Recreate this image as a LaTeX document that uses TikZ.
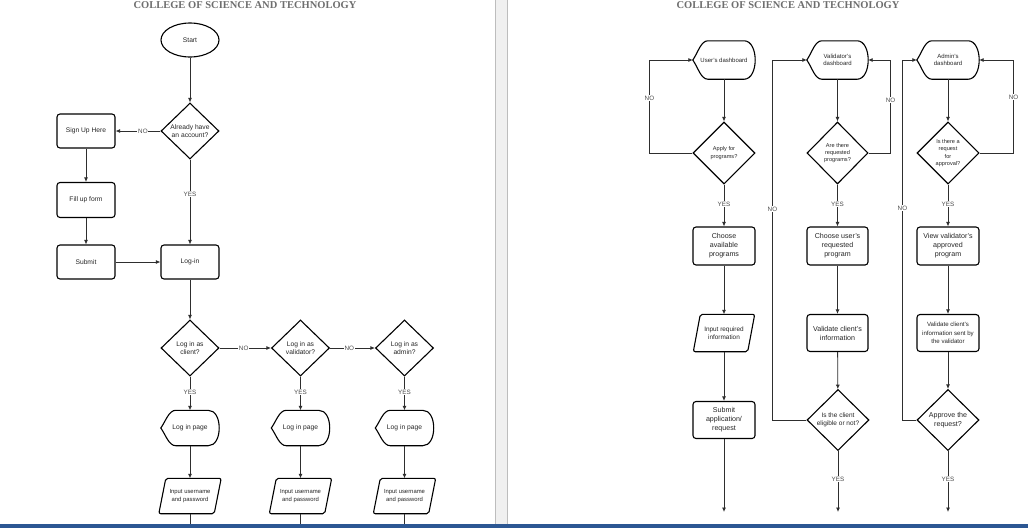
\documentclass[tikz,border=0pt]{standalone}
\usepackage{fontspec}
\setmainfont{Liberation Sans}
\newfontfamily\titlefont{Liberation Serif}
\usetikzlibrary{shapes.geometric,arrows.meta,calc}
\newcommand\fsz[2]{\fontsize{#1}{#2}\selectfont}
\definecolor{txt}{HTML}{262626}
\definecolor{line}{HTML}{2E2E2E}
\definecolor{lbltxt}{HTML}{4A4A4A}
\definecolor{titlegray}{HTML}{6E6E6E}
\definecolor{gapgray}{HTML}{F0F0F0}
\definecolor{gapline}{HTML}{BDBDBD}
\definecolor{barblue}{HTML}{2C5793}
% outline of a "display" step: pointed left side, rounded right side
\newcommand\dispoutline[1]{%
  \draw[outline] (#1.west) .. controls ($(#1.west)+(5,-7)$) and ($(#1.north west)+(8,0)$) .. ($(#1.north west)+(15,0)$)
   -- ($(#1.north east)+(-11,0)$) .. controls ($(#1.north east)+(-4,0)$) and ($(#1.east)+(0,-10)$) .. (#1.east)
   .. controls ($(#1.east)+(0,10)$) and ($(#1.south east)+(-4,0)$) .. ($(#1.south east)+(-11,0)$)
   -- ($(#1.south west)+(15,0)$) .. controls ($(#1.south west)+(8,0)$) and ($(#1.west)+(5,7)$) .. cycle;}
% outline of an input/output step (parallelogram)
\newcommand\paraoutline[1]{%
  \draw[outline,rounded corners=2pt] ($(#1.north west)+(7,0)$) -- (#1.north east)
   -- ($(#1.south east)+(-7,0)$) -- (#1.south west) -- cycle;}
\tikzset{
  outline/.style={draw=black,line width=1.1pt},
  base/.style={align=center,text=txt,inner sep=0pt},
  box/.style={base,outline,rectangle,rounded corners=3pt},
  dec/.style={base,outline,diamond,aspect=1},
  term/.style={base,outline,ellipse},
  disp/.style={base,rectangle},
  para/.style={base,rectangle},
  conn/.style={draw=line,line width=0.8pt,-{Latex[length=4.5pt,width=4pt]}},
  plain/.style={draw=line,line width=0.8pt},
  lbl/.style={fill=white,text=lbltxt,inner sep=0.8pt,font=\fsz{6.3}{7}},
  sizeA/.style={minimum width=58pt,minimum height=34pt},
  sizeD/.style={minimum width=58pt,minimum height=56pt},
  sizeB/.style={minimum width=62pt,minimum height=38pt},
  sizeQ/.style={minimum width=62pt,minimum height=62pt},
}
\begin{document}
\begin{tikzpicture}[x=1pt,y=-1pt]
\useasboundingbox (0,0) rectangle (1028,528);
% pages and the gap between them
\fill[white] (0,0) rectangle (1028,528);
\fill[gapgray] (495,0) rectangle (507,528);
\draw[gapline,line width=0.8pt] (495.5,0) -- (495.5,528) (507,0) -- (507,528);

% titles
\node[font=\titlefont\bfseries\fsz{10.5}{12},text=titlegray,anchor=base] (title1) at (245,8) {COLLEGE OF SCIENCE AND TECHNOLOGY};
\node[font=\titlefont\bfseries\fsz{10.5}{12},text=titlegray,anchor=base] (title2) at (788,8) {COLLEGE OF SCIENCE AND TECHNOLOGY};

% ---------- sign up / log in ----------
\begin{scope}[every node/.append style={font=\fsz{6.7}{8.3}}]
\node[term,minimum width=58pt,minimum height=34pt] (start) at (190,40) {Start};
\node[dec,sizeD] (acct) at (190,131) {Already have\\an account?};
\node[box,sizeA] (signup) at (86,131) {Sign Up Here};
\node[box,minimum width=58pt,minimum height=35pt] (form) at (86,200) {Fill up form};
\node[box,sizeA] (submit) at (86,262) {Submit};
\node[box,sizeA] (login) at (190,262) {Log-in};
\node[dec,sizeD] (qc) at (190,348) {Log in as\\client?};
\node[dec,sizeD] (qv) at (300.5,348) {Log in as\\validator?};
\node[dec,sizeD] (qa) at (404.5,348) {Log in as\\admin?};
\node[disp,minimum width=58pt,minimum height=35pt] (pc) at (190,428) {Log in page};
\node[disp,minimum width=58pt,minimum height=35pt] (pv) at (300.5,428) {Log in page};
\node[disp,minimum width=58pt,minimum height=35pt] (pa) at (404.5,428) {Log in page};
\end{scope}
\begin{scope}[every node/.append style={font=\fsz{5.9}{8.6}}]
\node[para,minimum width=62pt,minimum height=35pt] (ic) at (190,496) {Input username\\and password};
\node[para,minimum width=62pt,minimum height=35pt] (iv) at (300.5,496) {Input username\\and password};
\node[para,minimum width=62pt,minimum height=35pt] (ia) at (404.5,496) {Input username\\and password};
\end{scope}
\dispoutline{pc}\dispoutline{pv}\dispoutline{pa}
\paraoutline{ic}\paraoutline{iv}\paraoutline{ia}
\coordinate (ec) at (190,524);
\coordinate (ev) at (300.5,524);
\coordinate (ea) at (404.5,524);

\draw[conn] (start) -- (acct);
\draw[conn] (acct) -- node[lbl,pos=0.39]{NO} (signup);
\draw[conn] (acct) -- node[lbl,pos=0.41]{YES} (login);
\draw[conn] (signup) -- (form);
\draw[conn] (form) -- (submit);
\draw[conn] (submit) -- (login);
\draw[conn] (login) -- (qc);
\draw[conn] (qc) -- node[lbl,pos=0.47]{NO} (qv);
\draw[conn] (qv) -- node[lbl,pos=0.43]{NO} (qa);
\draw[conn] (qc) -- node[lbl,pos=0.46]{YES} (pc);
\draw[conn] (qv) -- node[lbl,pos=0.46]{YES} (pv);
\draw[conn] (qa) -- node[lbl,pos=0.46]{YES} (pa);
\draw[conn] (pc) -- (ic);
\draw[conn] (pv) -- (iv);
\draw[conn] (pa) -- (ia);
\draw[plain] (ic) -- (ec);
\draw[plain] (iv) -- (ev);
\draw[plain] (ia) -- (ea);

% ---------- dashboards ----------
\begin{scope}[every node/.append style={font=\fsz{6.0}{7.6}}]
\node[disp,sizeB] (udash) at (724,60) {User's dashboard};
\node[disp,minimum width=61pt,minimum height=38pt] (vdash) at (837.5,60) {Validator's\\dashboard};
\node[disp,sizeB] (adash) at (948,60) {Admin's\\dashboard};
\end{scope}
\begin{scope}[every node/.append style={font=\fsz{5.6}{7.2}}]
\node[dec,sizeQ] (uq) at (724,153) {Apply for\\programs?};
\node[dec,minimum width=61pt,minimum height=62pt] (vq) at (837.5,153) {Are there\\requested\\programs?};
\node[dec,sizeQ] (aq) at (948,153) {Is there a\\request\\for\\approval?};
\end{scope}
\begin{scope}[every node/.append style={font=\fsz{7.1}{9}}]
\node[box,sizeB] (ubox) at (724,246) {Choose\\available\\programs};
\node[box,minimum width=61pt,minimum height=38pt] (vbox) at (837.5,246) {Choose user's\\requested\\program};
\node[box,sizeB] (abox) at (948,246) {View validator's\\approved\\program};
\node[box,minimum width=61pt,minimum height=37pt] (vval) at (837.5,333) {Validate client's\\information};
\node[box,minimum width=62pt,minimum height=37pt] (usub) at (724,420) {Submit\\application/\\request};
\node[dec,minimum width=62pt,minimum height=61pt] (appr) at (948,420) {Approve the\\request?};
\end{scope}
\node[para,minimum width=61pt,minimum height=37pt,font=\fsz{6.4}{8.3}] (uin) at (724,333) {Input required\\information};
\node[box,minimum width=62pt,minimum height=37pt,font=\fsz{6.1}{8.8}] (aval) at (948,333) {Validate client's\\information sent by\\the validator};
\node[dec,minimum width=62pt,minimum height=61pt,font=\fsz{6.5}{8.3}] (elig) at (838,420) {Is the client\\eligible or not?};
\dispoutline{udash}\dispoutline{vdash}\dispoutline{adash}
\paraoutline{uin}
\coordinate (uend) at (724,512);
\coordinate (vend) at (838,512);
\coordinate (aend) at (948,512);

\draw[conn] (udash) -- (uq);
\draw[conn] (vdash) -- (vq);
\draw[conn] (adash) -- (aq);
\draw[conn] (uq.west) -- ++(-43,0) |- node[lbl,pos=0.295]{NO} (udash.west);
\draw[conn] (vq.east) -- ++(22,0) |- node[lbl,pos=0.285]{NO} (vdash.east);
\draw[conn] (aq.east) -- ++(34,0) |- node[lbl,pos=0.3]{NO} (adash.east);
\draw[conn] (uq) -- node[lbl,pos=0.47]{YES} (ubox);
\draw[conn] (vq) -- node[lbl,pos=0.47]{YES} (vbox);
\draw[conn] (aq) -- node[lbl,pos=0.47]{YES} (abox);
\draw[conn] (ubox) -- (uin);
\draw[conn] (vbox) -- (vval);
\draw[conn] (abox) -- (aval);
\draw[conn] (uin) -- (usub);
\draw[conn] (vval) -- (elig);
\draw[conn] (aval) -- (appr);
\draw[conn] (elig.west) -- ++(-34,0) |- node[lbl,pos=0.293]{NO} (vdash.west);
\draw[conn] (appr.west) -- ++(-14,0) |- node[lbl,pos=0.294]{NO} (adash.west);
\draw[conn] (usub) -- (uend);
\draw[conn] (elig) -- node[lbl,pos=0.46]{YES} (vend);
\draw[conn] (appr) -- node[lbl,pos=0.46]{YES} (aend);

% status bar along the bottom edge
\fill[barblue] (0,524) rectangle (1028,528);
\end{tikzpicture}
\end{document}
